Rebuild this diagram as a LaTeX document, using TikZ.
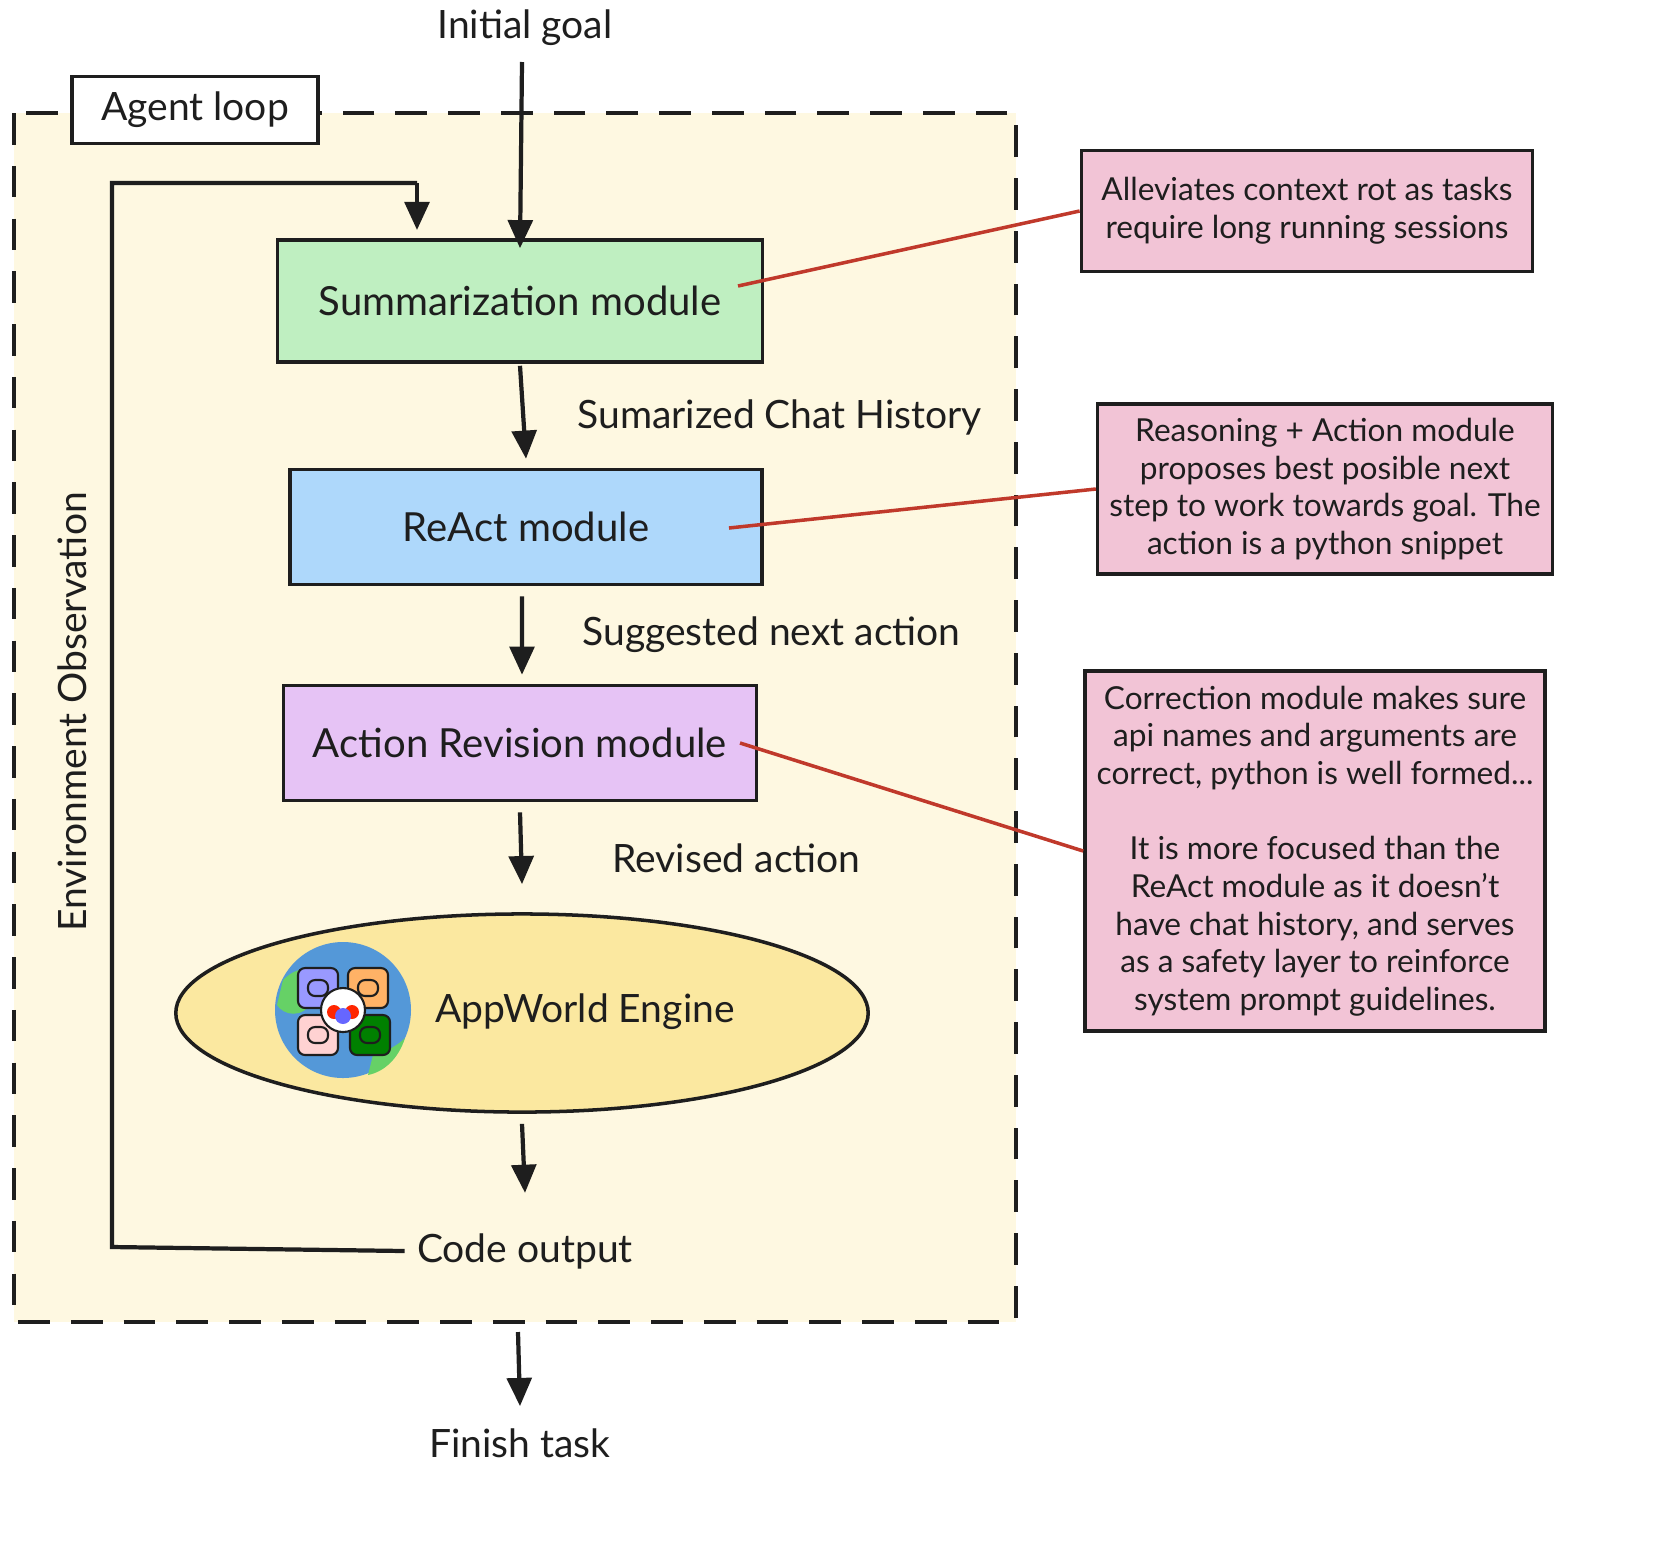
\documentclass[tikz,border=0pt]{standalone}
\usepackage{fontspec}
\setmainfont{Lato}
\usetikzlibrary{arrows.meta,shapes.geometric}
\definecolor{loopbg}{HTML}{FEF8E1}
\definecolor{sumgreen}{HTML}{BFEFC1}
\definecolor{reactblue}{HTML}{AED8FB}
\definecolor{revpurple}{HTML}{E6C3F5}
\definecolor{engyellow}{HTML}{FBE8A0}
\definecolor{notepink}{HTML}{F2C4D6}
\definecolor{notered}{HTML}{C0392B}
\definecolor{ink}{HTML}{1E1E1E}
\tikzset{
  module/.style={draw=ink,line width=1pt,font=\fontsize{11.4}{14}\selectfont,text=ink},
  note/.style={draw=ink,line width=1pt,fill=notepink,font=\fontsize{9}{10.7}\selectfont,align=center,text=ink},
  lbl/.style={font=\fontsize{11.1}{13}\selectfont,text=ink},
  flow/.style={draw=ink,line width=1.2pt,-{Triangle[length=8pt,width=7pt]}},
  link/.style={draw=notered,line width=1pt}
}
\begin{document}
\begin{tikzpicture}[x=0.01cm,y=-0.01cm]
\useasboundingbox (0,0) rectangle (1658,1554);
% agent loop frame
\draw [ink,line width=1.2pt,dash pattern=on 9pt off 6pt,fill=loopbg] (14,113) rectangle (1016,1322);
\node [draw=ink,line width=1pt,fill=white,minimum width=2.46cm,minimum height=0.67cm,lbl] (title) at (195,110) {Agent loop};
% modules
\node [module,fill=sumgreen,minimum width=4.85cm,minimum height=1.22cm] (summ) at (520,301) {Summarization module};
\node [module,fill=reactblue,minimum width=4.72cm,minimum height=1.15cm] (react) at (526,527) {ReAct module};
\node [module,fill=revpurple,minimum width=4.73cm,minimum height=1.15cm] (rev) at (520,743) {Action Revision module};
\node [module,ellipse,fill=engyellow,minimum width=6.92cm,minimum height=1.98cm] (engine) at (522,1013) {};
\node [lbl] (enginetext) at (585,1012) {AppWorld Engine};
% engine icon
\begin{scope}[shift={(343,1010)}]
\fill [cyan!60!blue!70] (0,0) circle (68);
\fill [green!70!black!60] (-60,-30) .. controls (-40,-50) and (-20,-40) .. (-30,-10) .. controls (-40,10) and (-60,5) .. (-66,-5) -- cycle;
\fill [green!70!black!60] (30,45) .. controls (50,40) and (60,30) .. (62,28) .. controls (55,50) and (40,62) .. (25,65) -- cycle;
\foreach \dx/\dy/\c in {-25/-22/blue!40, 25/-22/orange!60, -25/25/pink!70, 27/25/green!50!black}
  \filldraw [draw=ink,line width=0.6pt,fill=white,rounded corners=2pt] (\dx-20,\dy-20) rectangle (\dx+20,\dy+20)
    [fill=\c] (\dx-10,\dy-8) rectangle (\dx+10,\dy+8);
\filldraw [draw=ink,line width=0.6pt,fill=white] (0,0) circle (22);
\fill [red!70!orange] (-9,2) circle (7) (9,2) circle (7);
\fill [blue!60] (0,6) circle (8);
\end{scope}
% flow
\node [lbl] (goal) at (525,28) {Initial goal};
\node [lbl] (finish) at (520,1443) {Finish task};
\node [lbl] (code) at (525,1251) {Code output};
\coordinate (goalend) at (522,62);
\draw [flow] (goalend) -- ([yshift=-0.1cm]summ.north);
\draw [flow] ([yshift=-0.02cm]summ.south) -- ([yshift=0.09cm]react.north);
\node [lbl,anchor=west] (sumlbl) at (565,417) {Sumarized Chat History};
\draw [flow] ([xshift=-0.04cm,yshift=-0.1cm]react.south) -- ([yshift=0.09cm,xshift=0.02cm]rev.north);
\node [lbl,anchor=west] (suglbl) at (570,635) {Suggested next action};
\draw [flow] ([yshift=-0.1cm]rev.south) -- ([yshift=0.28cm]engine.north);
\node [lbl,anchor=west] (revlbl) at (600,858) {Revised action};
\draw [flow] ([yshift=-0.1cm]engine.south) -- ([yshift=0.28cm]code.north);
\coordinate (frameout) at (518,1332);
\draw [flow] (frameout) -- ([yshift=0.1cm]finish.north);
% observation loop
\coordinate (loopa) at (112,1247);
\coordinate (loopb) at (112,183);
\coordinate (loopc) at (417,183);
\coordinate (loopd) at (417,230);
\draw [flow,-] (code.west) -- (loopa) -- (loopb) -- (loopc);
\draw [flow] (loopc) -- (loopd);
\node [lbl,rotate=90] (obs) at (72,712) {Environment Observation};
% notes
\node [note,minimum width=4.51cm,minimum height=1.21cm] (note1) at (1307,211) {Alleviates context rot as tasks\\require long running sessions};
\node [note,minimum width=4.51cm,minimum height=1.70cm] (note2) at (1325,489) {Reasoning + Action module\\proposes best posible next\\step to work towards goal. The\\action is a python snippet};
\node [note,minimum width=4.51cm,minimum height=3.60cm] (note3) at (1315,851) {Correction module makes sure\\api names and arguments are\\correct, python is well formed...\\[\baselineskip]It is more focused than the\\ReAct module as it doesn't\\have chat history, and serves\\as a safety layer to reinforce\\system prompt guidelines.};
\coordinate (summpin) at (738,286);
\coordinate (reactpin) at (729,528);
\coordinate (revpin) at (740,743);
\draw [link] (summpin) -- (note1.west);
\draw [link] (reactpin) -- (note2.west);
\draw [link] (revpin) -- (note3.west);
\end{tikzpicture}
\end{document}
